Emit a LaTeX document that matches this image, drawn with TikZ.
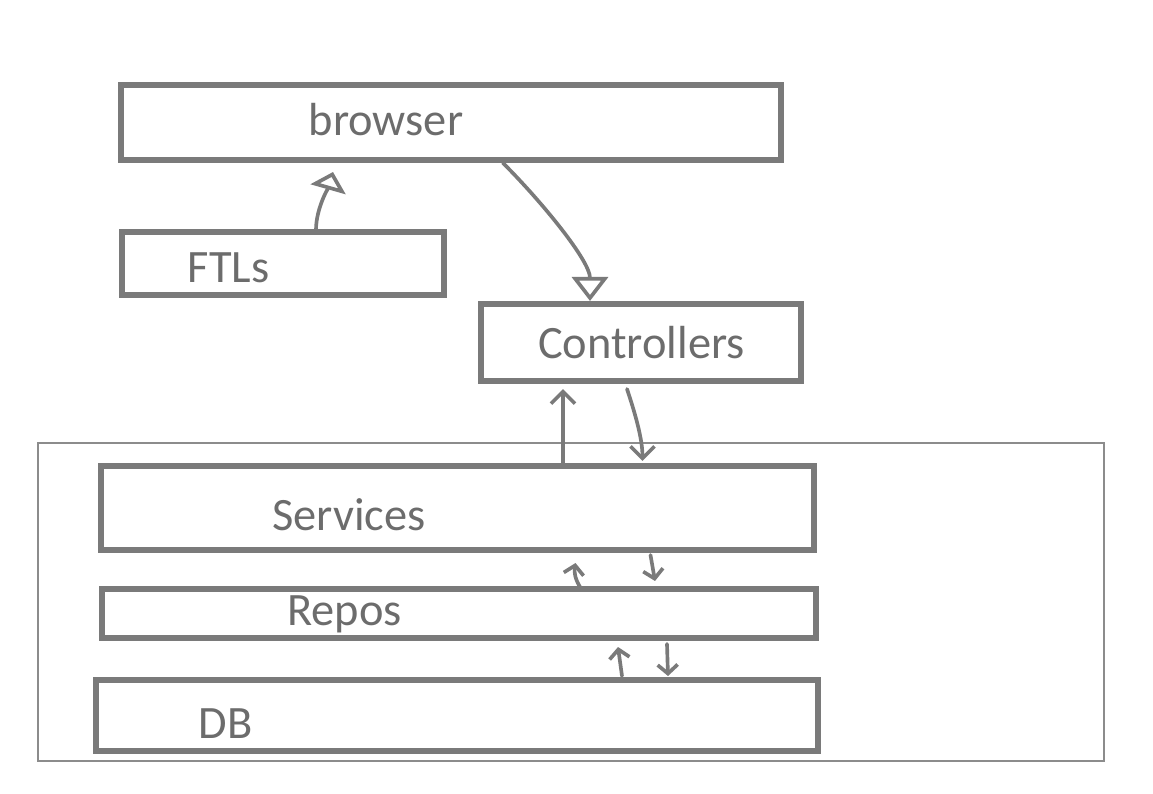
\documentclass[tikz,border=0pt]{standalone}
\usepackage{fontspec}
\setmainfont{Carlito}
\usetikzlibrary{calc,arrows.meta}
\definecolor{boxgray}{RGB}{122,122,122}
\definecolor{textgray}{RGB}{108,108,108}
\definecolor{framegray}{RGB}{140,140,140}
\begin{document}
\begin{tikzpicture}[x=0.025cm,y=-0.025cm,
    layer/.style={draw=boxgray,line width=4.3pt,inner sep=0pt,outer sep=0pt},
    caption/.style={text=textgray,font=\fontsize{33}{40}\selectfont,anchor=base,inner sep=0pt},
    flow/.style={draw=boxgray,line width=2.6pt,line cap=round,line join=round},
    bigbarb/.style={-{Straight Barb[length=0.3cm,width=0.6cm]}},
    smallbarb/.style={-{Straight Barb[length=0.22cm,width=0.5cm]}}]
                \useasboundingbox (0,0) rectangle (1153,794);

                % the backend frame
                \draw[framegray,line width=1pt] (38,443) rectangle (1104,761);

                \node[layer,minimum width=16.5cm,minimum height=1.875cm] (browser) at (451,122.5) {};
                \node[caption] at (386,136) {browser};

                \node[layer,minimum width=8.05cm,minimum height=1.575cm] (ftls) at (283,263.5) {};
                \node[caption] at (228.5,282) {FTLs};

                \node[layer,minimum width=8cm,minimum height=1.925cm] (controllers) at (641,342.5) {};
                \node[caption] at (641.5,358) {Controllers};

                \node[layer,minimum width=17.825cm,minimum height=2.1cm] (services) at (457.5,508) {};
                \node[caption] at (349,530) {Services};

                \node[layer,minimum width=17.85cm,minimum height=1.225cm] (repos) at (459,613.5) {};
                \node[caption] at (344.5,625) {Repos};

                \node[layer,minimum width=18.05cm,minimum height=1.775cm] (db) at (457,715.5) {};
                \node[caption] at (225.5,738) {DB};

                % arrows
                \draw[flow,-{Triangle[open,length=0.45cm,width=0.9cm]}] ($(ftls.north)+(33,-2)$)
                    .. controls +(0,-22) and +(-4,14) .. ($(browser.south)+(-118,12)$);
                \draw[flow,-{Triangle[open,length=0.6cm,width=0.9cm]}] ($(browser.south)+(52,3)$)
                    .. controls +(40,40) and +(0,-40) .. ($(controllers.north)+(-51,-3)$);
                \draw[flow,bigbarb] ($(services.north)+(105.5,-3)$) -- ($(controllers.south)+(-78,8)$);
                \draw[flow,bigbarb] ($(controllers.south)+(-14,8)$)
                    .. controls +(10,30) and +(0,-20) .. ($(services.north)+(185,-5)$);
                \draw[flow,smallbarb] ($(repos.north)+(121,-2)$) to[bend left=20] ($(services.south)+(118,13)$);
                \draw[flow,smallbarb] ($(services.south)+(193,5)$) -- ($(repos.north)+(196,-8)$);
                \draw[flow,smallbarb] ($(db.north)+(165,-4)$) -- ($(repos.south)+(159,9)$);
                \draw[flow,smallbarb] ($(repos.south)+(208,6)$) -- ($(db.north)+(211,-4)$);
\end{tikzpicture}
\end{document}
